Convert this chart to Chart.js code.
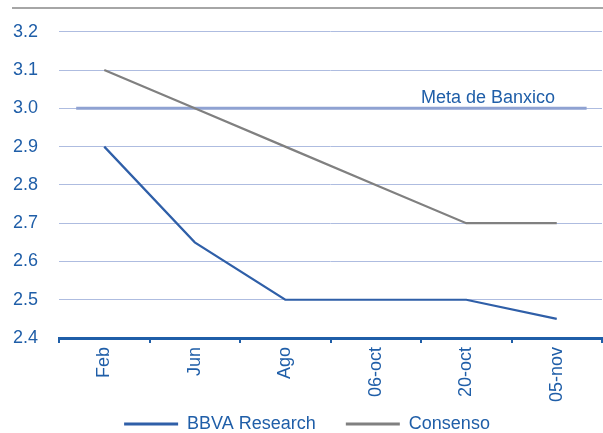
<!DOCTYPE html>
<html><head><meta charset="utf-8">
<script src="https://cdn.jsdelivr.net/npm/chart.js@4"></script>
<style>html,body{margin:0;padding:0;background:#fff}#w{width:603px;height:433px}</style>
</head><body><div id="w"><canvas id="c" width="603" height="433"></canvas></div>
<script>
const categories = ["Feb","Jun","Ago","06-oct","20-oct","05-nov"];
const bbva = [2.9, 2.65, 2.5, 2.5, 2.5, 2.45];
const consenso = [3.1, 3.0, 2.9, 2.8, 2.7, 2.7];
const metaValue = 3.0;
const metaSpan = [-0.31, 5.33];
const metaLabel = "Meta de Banxico";
const yTicks = [2.4,2.5,2.6,2.7,2.8,2.9,3.0,3.1,3.2];

const BLUE_TXT = "#1f5ea8";
const FONT = "'Liberation Sans', Arial, sans-serif";

// let rotated x labels overflow their axis box (no clipping)
Chart.Scale.prototype._computeLabelArea = function(){ return undefined; };

const deco = {
  id: 'deco',
  beforeDraw(chart){
    const c = chart.ctx;
    c.save();
    c.strokeStyle = "#a6a6a6"; c.lineWidth = 2;
    c.beginPath(); c.moveTo(12, 8); c.lineTo(603, 8); c.stroke();
    c.restore();
  },
  afterDatasetsDraw(chart){
    const c = chart.ctx;
    const x = chart.scales.x2.getPixelForValue(4.24);
    const y = chart.scales.y.getPixelForValue(metaValue);
    c.save();
    c.fillStyle = BLUE_TXT; c.font = "18px " + FONT;
    c.textAlign = "center"; c.textBaseline = "alphabetic";
    c.fillText(metaLabel, x, y - 5);
    c.restore();
  }
};

new Chart(document.getElementById('c'), {
  type: 'line',
  data: {
    labels: categories,
    datasets: [
      {label: "BBVA Research", data: bbva, borderColor: "#2f5fa8", backgroundColor: "#2f5fa8", borderWidth: 2.2, pointRadius: 0, tension: 0, order: 1},
      {label: "Consenso", data: consenso, borderColor: "#808080", backgroundColor: "#808080", borderWidth: 2.2, pointRadius: 0, tension: 0, order: 2},
      {label: "meta", data: metaSpan.map(v => ({x: v, y: metaValue})), xAxisID: 'x2', borderColor: "#8fa2d2", borderWidth: 3, pointRadius: 0, order: 3}
    ]
  },
  options: {
    responsive: false, animation: false,
    layout: {padding: {left: 12, right: 1, top: 31, bottom: -10}},
    plugins: {
      title: {display: false},
      tooltip: {enabled: false},
      legend: {
        position: 'bottom',
        labels: {
          color: BLUE_TXT, font: {family: FONT, size: 18}, boxWidth: 54, boxHeight: 3, padding: 30,
          generateLabels(chart){
            return chart.data.datasets.slice(0,2).map((d,i)=>({text: d.label, fillStyle: d.borderColor, strokeStyle: d.borderColor, lineWidth: 0, datasetIndex: i, fontColor: BLUE_TXT}));
          }
        }
      }
    },
    scales: {
      x: {
        type: 'category', offset: true,
        grid: {display: true, drawOnChartArea: false, drawTicks: true, tickLength: 5, color: "#1f5ea8", lineWidth: 2, offset: true},
        border: {display: true, color: "#1f5ea8", width: 3},
        ticks: {color: BLUE_TXT, font: {family: FONT, size: 18}, minRotation: 90, maxRotation: 90, padding: 4},
        afterFit(s){ s.height = 47; }
      },
      x2: {type: 'linear', display: false, min: -0.5, max: 5.5},
      y: {
        min: 2.4, max: 3.2,
        afterBuildTicks(s){ s.ticks = yTicks.map(v => ({value: v})); },
        grid: {color: "#aebce0", lineWidth: 1, drawTicks: false},
        border: {display: false},
        ticks: {color: BLUE_TXT, font: {family: FONT, size: 18}, padding: 21, callback: v => Number(v).toFixed(1)},
        afterFit(s){ s.width = 47; }
      }
    }
  },
  plugins: [deco]
});
</script></body></html>
